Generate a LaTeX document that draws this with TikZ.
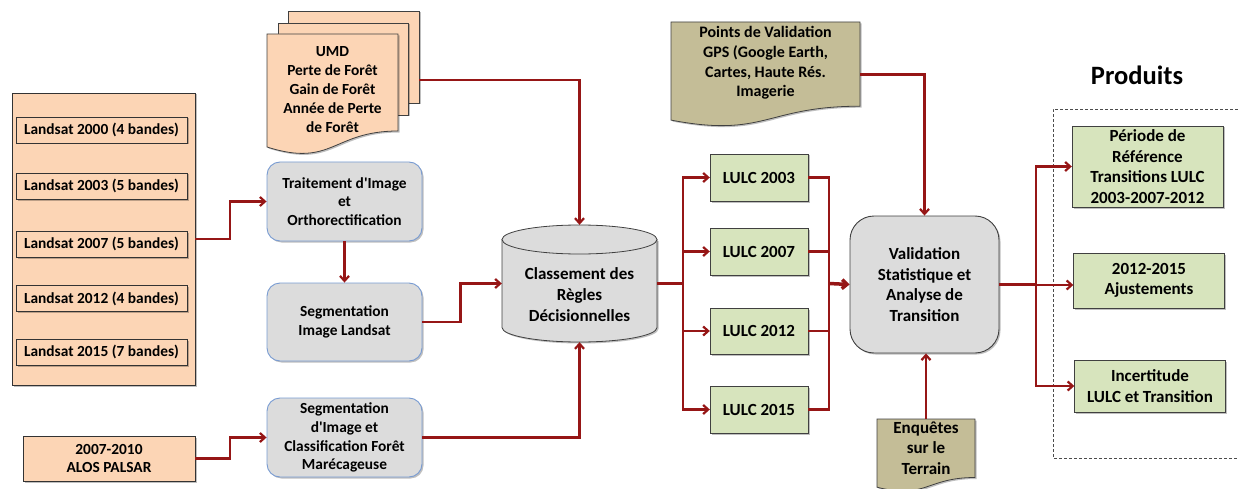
\documentclass[tikz,border=0pt]{standalone}
\usepackage{fontspec}
\setmainfont{Carlito}[Ligatures=TeXOff]
\usetikzlibrary{arrows.meta,shadows}
\definecolor{peach}{HTML}{FCD5B5}
\definecolor{lgreen}{HTML}{D7E4BD}
\definecolor{khaki}{HTML}{C4BD97}
\definecolor{lgray}{HTML}{DCDCDC}
\definecolor{bblue}{RGB}{120,155,210}
\definecolor{dred}{RGB}{150,22,22}
\begin{document}
\begin{tikzpicture}[x=1pt,y=-1pt,
  shad/.style={drop shadow={shadow xshift=1.5pt,shadow yshift=-1.5pt,opacity=0.25,fill=black}},
  fs/.style={font=\bfseries\fontsize{15.4}{18.8}\selectfont},
  fl/.style={font=\bfseries\fontsize{17}{20.7}\selectfont},
  land/.style={draw=black!80, fill=peach, minimum width=171pt, minimum height=26pt, inner sep=0pt, fs, shad},
  graybox/.style={draw=bblue, fill=lgray, rounded corners=13pt, minimum width=155pt, minimum height=79pt, align=center, fs, line width=0.9pt, shad},
  lulc/.style={draw=black!75, fill=lgreen, minimum width=98pt, minimum height=47pt, fl, shad},
  prod/.style={draw=black!75, fill=lgreen, minimum width=151pt, align=center, fl, inner sep=0pt, shad},
  txt/.style={align=center, inner sep=0pt},
  ghost/.style={draw=none, inner sep=0pt},
  arr/.style={draw=dred, line width=2.2pt, -{Straight Barb[length=5pt,width=9pt]}},
  ln/.style={draw=dred, line width=2.2pt},
  thk/.style={draw=dred, line width=3.5pt},
  outl/.style={draw=black!75, line width=0.8pt}
]
\useasboundingbox (0,0) rectangle (1238,489);

% ---------- Landsat group ----------
\node[draw=black!80, fill=peach, minimum width=183pt, minimum height=292pt, shad] (landsat) at (103.5,239) {};
\node[land] (l2000) at (101.5,130) {Landsat 2000 (4 bandes)};
\node[land] (l2003) at (101.5,186) {Landsat 2003 (5 bandes)};
\node[land] (l2007) at (101.5,244) {Landsat 2007 (5 bandes)};
\node[land] (l2012) at (101.5,298.5) {Landsat 2012 (4 bandes)};
\node[land] (l2015) at (101.5,352) {Landsat 2015 (7 bandes)};

\node[draw=black!80, fill=peach, minimum width=172pt, minimum height=45pt, align=center, inner sep=0pt, fs, shad] (alos) at (109,458.5) {2007-2010\\ALOS PALSAR};

% ---------- UMD multidocument ----------
\filldraw[fill=peach, outl, shad] (288,11) rectangle (419,103);
\filldraw[fill=peach, outl, shad] (278,23) rectangle (408,115);
\filldraw[fill=peach, outl, shad] (267,34) -- (398,34) -- (398,131)
  .. controls (332.5,131) and (332.5,167.9) .. (267,147) -- cycle;
\node[ghost, minimum width=152pt, minimum height=138pt] (umd) at (343,80) {};
\node[txt, fs] (umdtxt) at (332.5,89.5) {UMD\\Perte de Forêt\\Gain de Forêt\\Année de Perte\\de Forêt};

% ---------- Gray process boxes ----------
\node[graybox] (trait) at (344.5,201.5) {Traitement d'Image\\et\\Orthorectification};
\node[graybox, minimum height=78pt] (segl) at (344.5,322) {Segmentation\\Image Landsat};
\node[graybox] (segf) at (344.5,437.5) {Segmentation\\d'Image et\\Classification Forêt\\Marécageuse};

% ---------- Cylinder ----------
\filldraw[fill=lgray, outl, shad] (502,239.5) -- (502,327.5)
  .. controls (502,335.5) and (536.7,342) .. (579.5,342)
  .. controls (622.3,342) and (657,335.5) .. (657,327.5) -- (657,239.5) -- cycle;
\filldraw[fill=lgray, outl] (579.5,239.5) ellipse [x radius=77.5, y radius=14.5];
\node[ghost, minimum width=155pt, minimum height=117pt] (cyl) at (579.5,283.5) {};
\node[txt, fl] (cyltxt) at (579.5,294.5) {Classement des\\Règles\\Décisionnelles};

% ---------- Points de Validation document ----------
\filldraw[fill=khaki, outl, shad] (671,22) -- (860,22) -- (860,106.2)
  .. controls (765.5,106.2) and (765.5,138.2) .. (671,120.1) -- cycle;
\node[ghost, minimum width=189pt, minimum height=105pt] (pts) at (765.5,74.5) {};
\node[txt, font=\bfseries\fontsize{16}{19.8}\selectfont] (ptstxt) at (765.5,63) {Points de Validation\\GPS (Google Earth,\\Cartes, Haute Rés.\\Imagerie};

% ---------- LULC boxes ----------
\node[lulc] (c03) at (759,177.5) {LULC 2003};
\node[lulc] (c07) at (759,251.5) {LULC 2007};
\node[lulc, minimum height=46pt] (c12) at (759,331) {LULC 2012};
\node[lulc] (c15) at (759,409.5) {LULC 2015};

% ---------- Validation ----------
\node[draw=black!75, fill=lgray, rounded corners=24pt, minimum width=149pt, minimum height=137pt, align=center, fl, line width=0.9pt, shad] (valid) at (924.5,284.5) {Validation\\Statistique et\\Analyse de\\Transition};

% ---------- Enquetes document ----------
\filldraw[fill=khaki, outl, shad] (877,419) -- (975,419) -- (975,477.5)
  .. controls (926,477.5) and (926,499.8) .. (877,487.2) -- cycle;
\node[ghost, minimum width=98pt, minimum height=73pt] (enq) at (926,455.5) {};
\node[txt, fl] (enqtxt) at (926,448) {Enquêtes\\sur le\\Terrain};

% ---------- Produits ----------
\node[txt, font=\bfseries\fontsize{26.5}{30}\selectfont] (prodtitle) at (1137,75) {Produits};
\draw[black!70, line width=0.8pt, dash pattern=on 3pt off 2pt] (1238,109) -- (1053,109) -- (1053,458) -- (1238,458);
\node[prod, minimum height=81pt] (p1) at (1147.5,166.5) {Période de\\Référence\\Transitions LULC\\2003-2007-2012};
\node[prod, minimum height=55pt] (p2) at (1149,280.5) {2012-2015\\Ajustements};
\node[prod, minimum height=52pt] (p3) at (1150,386) {Incertitude\\LULC et Transition};

% ---------- Connectors ----------
\coordinate (bL) at (683,283.5);
\coordinate (bR) at (829,283.5);
\coordinate (bO) at (1036,284.5);

\draw[arr] (landsat.east) -- ++(35,0) |- (trait.west);
\draw[arr] (alos.east) -- ++(35,0) |- (segf.west);
\draw[arr] (trait.south) -- (segl.north);
\draw[arr] (segl.east) -- ++(38,0) |- (cyl.west);
\draw[arr] (segf.east) -| (cyl.south);
\draw[arr] (umd.east) -| (cyl.north);

\draw[thk] (cyl.east) -- (bL);
\draw[arr] (bL) |- (c03.west);
\draw[arr] (bL) |- (c07.west);
\draw[arr] (bL) |- (c12.west);
\draw[arr] (bL) |- (c15.west);

\draw[ln] (c03.east) -| (bR);
\draw[ln] (c07.east) -| (bR);
\draw[ln] (c12.east) -| (bR);
\draw[ln] (c15.east) -| (bR);
\draw[thk, -{Straight Barb[length=5pt,width=9pt]}] (bR) -- (valid.west);

\draw[arr] (pts.east) -| (valid.north);
\draw[arr] (enq.north) -- (enq.north |- valid.south);

\draw[ln] (valid.east) -- (bO);
\draw[arr] (bO) |- (p1.west);
\draw[arr] (bO) |- ([yshift=-4.5pt]p2.west);
\draw[arr] (bO) |- (p3.west);
\end{tikzpicture}
\end{document}
